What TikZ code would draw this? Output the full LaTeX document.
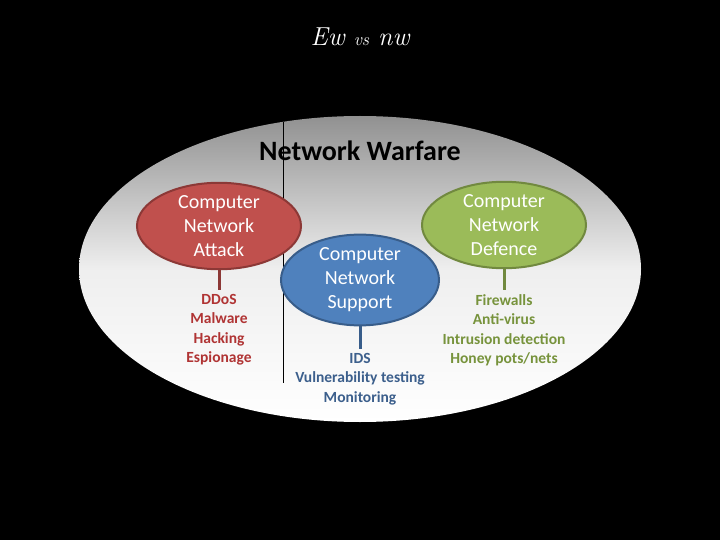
\documentclass[tikz,border=0pt]{standalone}
\usepackage{fontspec}
\setmainfont{Carlito}
\newfontfamily\titlefont{Latin Modern Roman}
\usetikzlibrary{shapes.geometric}
\definecolor{redfill}{RGB}{192,80,77}
\definecolor{redline}{RGB}{140,56,54}
\definecolor{redtext}{RGB}{176,52,52}
\definecolor{bluefill}{RGB}{79,129,189}
\definecolor{blueline}{RGB}{56,93,138}
\definecolor{bluetext}{RGB}{60,95,140}
\definecolor{greenfill}{RGB}{155,187,89}
\definecolor{greenline}{RGB}{113,137,63}
\definecolor{greentext}{RGB}{119,147,60}
\definecolor{topgray}{RGB}{145,145,145}
\tikzset{
  cat/.style={ellipse, draw=#1line, fill=#1fill, line width=2pt, text=white,
    minimum width=164pt, minimum height=86pt, inner sep=0pt, align=center,
    font=\fontsize{20}{24}\selectfont},
  items/.style={text=#1text, align=center, inner sep=0pt,
    font=\bfseries\fontsize{15.5}{19.5}\selectfont},
  stem/.style={draw=#1line, line width=3pt},
}
\begin{document}
\begin{tikzpicture}[x=1pt,y=-1pt]
\fill[black] (0,0) rectangle (720,540);
\useasboundingbox (0,0) rectangle (720,540);
\shade[top color=topgray, bottom color=white, middle color=white!85!topgray]
  (360,269) ellipse [x radius=281, y radius=153];
\draw[black, line width=1pt] (283,122) -- (283,383);
\node[text=white, font=\titlefont\itshape\fontsize{26}{30}\selectfont] (title) at (360,37) {Ew {\fontsize{18}{20}\selectfont vs} nw};
\node[font=\bfseries\fontsize{28}{32}\selectfont] (nw) at (360,151) {Network Warfare};
\node[cat=red] (cna) at (219,226) {Computer\\Network\\Attack};
\node[cat=blue, minimum width=158pt, minimum height=82pt] (cns) at (360,280) {Computer\\Network\\Support};
\node[cat=green] (cnd) at (504,225) {Computer\\Network\\Defence};
\coordinate (ra) at (219,290);
\coordinate (ba) at (360,349);
\coordinate (ga) at (504,290);
\draw[stem=red] (cna.south) -- (ra);
\draw[stem=blue] (cns.south) -- (ba);
\draw[stem=green] (cnd.south) -- (ga);
\node[items=red, anchor=north] (ri) at (219,294) {DDoS\\Malware\\Hacking\\Espionage};
\node[items=blue, anchor=north] (bi) at (360,353) {IDS\\Vulnerability testing\\Monitoring};
\node[items=green, anchor=north] (gi) at (504,294) {Firewalls\\Anti-virus\\Intrusion detection\\Honey pots/nets};
\end{tikzpicture}
\end{document}
